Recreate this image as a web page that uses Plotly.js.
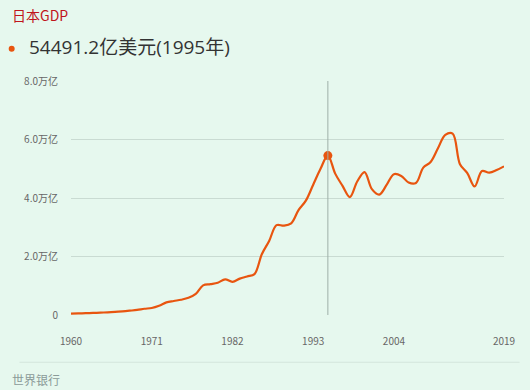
<!DOCTYPE html>
<html>
<head>
<meta charset="utf-8">
<script src="https://cdn.plot.ly/plotly-3.0.1.min.js"></script>
<style>
html,body{margin:0;padding:0;background:#e6f8ee;}
#chart{width:530px;height:390px;}
</style>
</head>
<body>
<div id="chart"></div>
<script>
const years = [1960,1961,1962,1963,1964,1965,1966,1967,1968,1969,
1970,1971,1972,1973,1974,1975,1976,1977,1978,1979,
1980,1981,1982,1983,1984,1985,1986,1987,1988,1989,
1990,1991,1992,1993,1994,1995,1996,1997,1998,1999,
2000,2001,2002,2003,2004,2005,2006,2007,2008,2009,
2010,2011,2012,2013,2014,2015,2016,2017,2018,2019];
// GDP in 万亿美元
const gdp = [0.0443,0.0537,0.0608,0.0697,0.0819,0.0910,0.1057,0.1238,0.1469,0.1722,
0.2127,0.2404,0.3183,0.4323,0.4798,0.5216,0.5864,0.7213,1.0137,1.0551,
1.1050,1.2188,1.1349,1.2437,1.3183,1.3986,2.0785,2.5325,3.0718,3.0545,
3.1327,3.5843,3.9088,4.4545,4.9987,5.4491,4.8335,4.4142,4.0323,4.5623,
4.8875,4.3035,4.1151,4.4455,4.8151,4.7554,4.5303,4.5153,5.0379,5.2312,
5.7001,6.1575,6.2032,5.1557,4.8504,4.3949,4.9227,4.8667,4.9548,5.0818];
const xTickVals = [1960,1971,1982,1993,2004,2019];
const yTickVals = [0,2,4,6,8];
const yTickText = ['0','2.0万亿','4.0万亿','6.0万亿','8.0万亿'];
const highlightYear = 1995;
const highlightLabel = '54491.2亿美元(1995年)';
const titleText = '日本GDP';
const sourceText = '世界银行';

const hi = years.indexOf(highlightYear);
const FONT = '"Microsoft YaHei","Noto Sans CJK SC",sans-serif';
const lineColor = '#e8550f';

const traces = [
  {x: years, y: gdp, type:'scatter', mode:'lines',
   line:{color:lineColor, width:2.2, shape:'spline', smoothing:1}, hoverinfo:'none'},
  {x:[years[hi]], y:[gdp[hi]], type:'scatter', mode:'markers',
   marker:{color:lineColor, size:9}, hoverinfo:'none'}
];

const layout = {
  width:530, height:390,
  paper_bgcolor:'#e6f8ee', plot_bgcolor:'#e6f8ee',
  margin:{l:71, r:26, t:81, b:75},
  showlegend:false,
  font:{family:FONT, color:'#666', size:10},
  xaxis:{range:[1960,2019], tickvals:xTickVals, ticktext:xTickVals.map(String),
    showgrid:false, zeroline:false, showline:false, ticks:'outside', ticklen:17,
    tickcolor:'rgba(0,0,0,0)',
    tickfont:{size:10, color:'#666'}, fixedrange:true},
  yaxis:{range:[0,8], tickvals:yTickVals, ticktext:yTickText,
    showgrid:true, gridcolor:'#c9dbd2', gridwidth:1, zeroline:false, showline:false,
    ticks:'outside', ticklen:10, tickcolor:'rgba(0,0,0,0)',
    tickfont:{size:10, color:'#666'}, fixedrange:true},
  shapes:[
    {type:'line', xref:'x', yref:'paper', x0:years[hi], x1:years[hi], y0:0, y1:1,
     line:{color:'#9fb0a8', width:1}},
    {type:'line', xref:'paper', yref:'paper', x0:-0.119, x1:1.036, y0:-0.202, y1:-0.202,
     line:{color:'#d4e6dc', width:1}},
    {type:'circle', xref:'paper', yref:'paper',
     xsizemode:'pixel', ysizemode:'pixel', xanchor:-0.137, yanchor:1.1375,
     x0:-3, x1:3, y0:-3, y1:3, fillcolor:lineColor, line:{width:0}}
  ],
  annotations:[
    {text:titleText, xref:'paper', yref:'paper', x:-0.14, y:1.28,
     xanchor:'left', yanchor:'middle', showarrow:false,
     font:{size:14, color:'#c0141c', family:FONT}},
    {text:highlightLabel, xref:'paper', yref:'paper', x:-0.102, y:1.145,
     xanchor:'left', yanchor:'middle', showarrow:false,
     font:{size:19, color:'#333', family:'"Open Sans","Noto Sans CJK SC",sans-serif'}},
    {text:sourceText, xref:'paper', yref:'paper', x:-0.142, y:-0.274,
     xanchor:'left', yanchor:'middle', showarrow:false,
     font:{size:12, color:'#8a9a98', family:FONT}}
  ]
};

Plotly.newPlot('chart', traces, layout, {displayModeBar:false, staticPlot:true});
</script>
</body>
</html>
